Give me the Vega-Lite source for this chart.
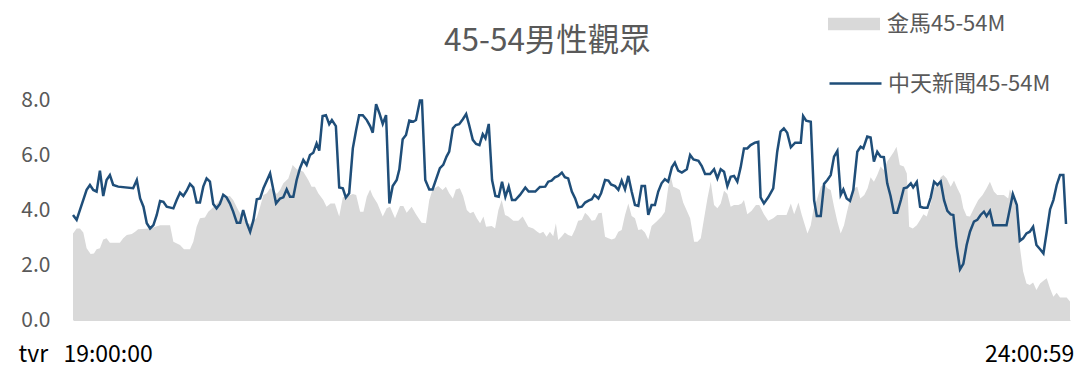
{
  "$schema": "https://vega.github.io/schema/vega-lite/v6.json",
  "width": 997,
  "height": 220,
  "autosize": {"type": "none"},
  "padding": {"left": 73, "top": 100, "right": 9, "bottom": 47},
  "background": "white",
  "config": {
    "view": {"stroke": null},
    "font": "Noto Sans CJK TC"
  },
  "title": {
    "text": "45-54男性觀眾",
    "fontSize": 31.5,
    "fontWeight": "normal",
    "color": "#595959",
    "font": "Noto Sans CJK TC",
    "anchor": "start",
    "frame": "group",
    "dx": 371,
    "dy": 44,
    "baseline": "alphabetic",
    "offset": -40
  },
  "datasets": {
    "jm": [
      {"t":0,"v":3.15},{"t":1.1,"v":3.33},{"t":2.1,"v":3.33},{"t":3.1,"v":3.18},{"t":4.1,"v":2.61},{"t":5.3,"v":2.4},{"t":6.3,"v":2.42},{"t":7.1,"v":2.57},{"t":8.1,"v":2.61},{"t":9.1,"v":2.93},{"t":10.1,"v":2.97},{"t":11.1,"v":2.81},{"t":14.1,"v":2.81},{"t":15.1,"v":2.97},{"t":16.2,"v":3.09},{"t":17.7,"v":3.13},{"t":18.7,"v":3.21},{"t":19.6,"v":3.3},{"t":23.2,"v":3.33},{"t":26.2,"v":3.45},{"t":29.2,"v":3.45},{"t":30.2,"v":2.85},{"t":32.2,"v":2.73},{"t":33.4,"v":2.57},{"t":35.2,"v":2.57},{"t":36.2,"v":2.85},{"t":37.2,"v":3.39},{"t":38.2,"v":3.7},{"t":39.7,"v":3.73},{"t":40.7,"v":3.94},{"t":42.2,"v":4.1},{"t":44.2,"v":4.36},{"t":46.2,"v":4.48},{"t":47.2,"v":4.51},{"t":48.2,"v":4.36},{"t":49.7,"v":4.0},{"t":51.2,"v":3.7},{"t":52.3,"v":3.54},{"t":53.3,"v":3.49},{"t":54.3,"v":3.58},{"t":55.3,"v":3.73},{"t":56.3,"v":4.12},{"t":57.3,"v":4.55},{"t":58.3,"v":4.61},{"t":59.3,"v":4.79},{"t":60.3,"v":4.73},{"t":61.3,"v":4.58},{"t":62.3,"v":4.73},{"t":63.3,"v":4.97},{"t":64.8,"v":5.15},{"t":66.1,"v":5.64},{"t":67.3,"v":5.48},{"t":68.3,"v":5.45},{"t":69.3,"v":5.39},{"t":70.8,"v":5.09},{"t":71.8,"v":4.85},{"t":72.8,"v":4.85},{"t":73.8,"v":4.61},{"t":75.3,"v":4.36},{"t":76.3,"v":4.12},{"t":77.5,"v":4.24},{"t":78.8,"v":4.24},{"t":80.1,"v":3.76},{"t":81.2,"v":4.46},{"t":82.1,"v":4.48},{"t":84.2,"v":4.58},{"t":85.2,"v":4.55},{"t":86.4,"v":3.94},{"t":87.4,"v":3.94},{"t":88.4,"v":4.48},{"t":89.4,"v":4.75},{"t":90.2,"v":4.51},{"t":91.6,"v":4.24},{"t":93.2,"v":3.76},{"t":94.4,"v":4.06},{"t":95.4,"v":4.12},{"t":96.9,"v":3.7},{"t":98.4,"v":4.15},{"t":99.4,"v":4.15},{"t":100.4,"v":3.9},{"t":101.9,"v":4.12},{"t":103.2,"v":3.85},{"t":104.9,"v":3.54},{"t":106.2,"v":3.52},{"t":107.2,"v":4.36},{"t":108.2,"v":4.75},{"t":109.9,"v":4.87},{"t":111.2,"v":4.73},{"t":112.2,"v":4.85},{"t":113.2,"v":4.61},{"t":114.3,"v":4.42},{"t":115.2,"v":4.75},{"t":116.4,"v":4.79},{"t":117.4,"v":4.51},{"t":118.5,"v":4.0},{"t":119.5,"v":3.88},{"t":120.5,"v":3.94},{"t":121.5,"v":3.7},{"t":122.5,"v":3.52},{"t":123.5,"v":3.76},{"t":124.3,"v":3.39},{"t":126.0,"v":3.42},{"t":127.0,"v":3.33},{"t":128.0,"v":4.0},{"t":129.0,"v":4.36},{"t":130.0,"v":3.82},{"t":131.0,"v":3.76},{"t":132.5,"v":3.61},{"t":134.0,"v":3.61},{"t":135.3,"v":3.76},{"t":137.0,"v":3.39},{"t":138.5,"v":3.33},{"t":139.7,"v":3.21},{"t":140.5,"v":3.15},{"t":141.5,"v":3.21},{"t":142.5,"v":3.03},{"t":143.5,"v":3.21},{"t":144.5,"v":3.05},{"t":145.3,"v":3.52},{"t":146.0,"v":2.91},{"t":147.1,"v":3.05},{"t":148.0,"v":3.18},{"t":149.0,"v":3.09},{"t":150.1,"v":3.05},{"t":151.1,"v":3.3},{"t":152.0,"v":3.61},{"t":153.1,"v":3.64},{"t":154.1,"v":3.9},{"t":155.1,"v":3.78},{"t":156.1,"v":3.61},{"t":157.1,"v":3.64},{"t":158.1,"v":3.88},{"t":159.1,"v":3.9},{"t":160.1,"v":3.03},{"t":161.1,"v":2.97},{"t":162.1,"v":2.93},{"t":163.1,"v":2.97},{"t":164.1,"v":3.21},{"t":165.1,"v":3.27},{"t":166.1,"v":3.82},{"t":167.1,"v":4.24},{"t":168.1,"v":3.78},{"t":169.1,"v":3.7},{"t":170.1,"v":3.27},{"t":171.1,"v":3.3},{"t":172.1,"v":3.18},{"t":173.1,"v":2.93},{"t":174.1,"v":3.42},{"t":175.6,"v":3.58},{"t":177.1,"v":3.76},{"t":178.1,"v":3.94},{"t":179.1,"v":4.82},{"t":179.9,"v":5.21},{"t":180.6,"v":4.85},{"t":181.7,"v":4.79},{"t":182.6,"v":4.73},{"t":183.6,"v":4.27},{"t":184.7,"v":3.97},{"t":185.7,"v":3.7},{"t":186.9,"v":2.85},{"t":187.9,"v":2.85},{"t":188.9,"v":2.97},{"t":189.9,"v":3.7},{"t":190.9,"v":4.42},{"t":191.9,"v":5.03},{"t":192.9,"v":4.18},{"t":193.9,"v":4.06},{"t":194.9,"v":4.24},{"t":195.9,"v":4.7},{"t":196.9,"v":4.58},{"t":197.9,"v":4.12},{"t":198.9,"v":4.18},{"t":200.2,"v":4.18},{"t":201.2,"v":4.24},{"t":201.9,"v":4.36},{"t":202.9,"v":3.85},{"t":204.2,"v":3.97},{"t":205.5,"v":4.18},{"t":206.5,"v":4.18},{"t":207.9,"v":3.85},{"t":209.2,"v":3.61},{"t":210.7,"v":3.7},{"t":211.9,"v":3.82},{"t":214.7,"v":3.82},{"t":216.0,"v":4.24},{"t":217.0,"v":3.85},{"t":218.3,"v":4.27},{"t":219.3,"v":3.82},{"t":221.0,"v":3.15},{"t":222.0,"v":3.45},{"t":222.8,"v":4.02},{"t":223.8,"v":4.36},{"t":225.0,"v":4.85},{"t":226.0,"v":4.95},{"t":227.0,"v":4.79},{"t":228.0,"v":4.73},{"t":229.0,"v":4.12},{"t":230.0,"v":3.58},{"t":231.0,"v":3.15},{"t":232.0,"v":3.45},{"t":232.8,"v":3.88},{"t":234.0,"v":4.48},{"t":235.0,"v":4.79},{"t":236.0,"v":4.85},{"t":236.9,"v":4.42},{"t":238.1,"v":4.55},{"t":239.1,"v":4.79},{"t":240.0,"v":5.19},{"t":241.0,"v":5.03},{"t":242.0,"v":5.27},{"t":243.0,"v":5.58},{"t":244.0,"v":5.45},{"t":245.0,"v":5.76},{"t":246.0,"v":5.94},{"t":247.0,"v":6.12},{"t":247.8,"v":6.3},{"t":248.8,"v":5.64},{"t":250.0,"v":5.58},{"t":250.9,"v":5.33},{"t":251.6,"v":3.39},{"t":252.7,"v":3.33},{"t":253.9,"v":3.45},{"t":254.9,"v":3.64},{"t":255.9,"v":3.85},{"t":256.9,"v":3.76},{"t":258.1,"v":4.24},{"t":259.1,"v":4.79},{"t":260.1,"v":4.91},{"t":261.1,"v":5.19},{"t":261.9,"v":5.27},{"t":262.9,"v":5.15},{"t":264.1,"v":4.85},{"t":265.1,"v":5.07},{"t":266.1,"v":4.79},{"t":267.1,"v":4.55},{"t":267.9,"v":4.06},{"t":268.9,"v":3.78},{"t":269.9,"v":3.76},{"t":271.1,"v":4.06},{"t":272.4,"v":4.36},{"t":273.7,"v":4.55},{"t":274.9,"v":4.79},{"t":275.9,"v":5.03},{"t":277.1,"v":4.67},{"t":278.1,"v":4.55},{"t":280.1,"v":4.55},{"t":281.4,"v":4.42},{"t":281.9,"v":4.75},{"t":282.9,"v":4.51},{"t":284.1,"v":3.88},{"t":284.9,"v":2.67},{"t":285.9,"v":1.76},{"t":286.9,"v":1.33},{"t":287.9,"v":1.27},{"t":288.9,"v":1.36},{"t":289.9,"v":1.09},{"t":291.0,"v":1.33},{"t":292.0,"v":1.43},{"t":293.0,"v":1.52},{"t":294.0,"v":1.15},{"t":295.0,"v":0.85},{"t":296.0,"v":0.99},{"t":297.0,"v":0.82},{"t":299.0,"v":0.82},{"t":300.0,"v":0.67}
    ],
    "ct": [
      {"t":0,"v":3.82},{"t":1.1,"v":3.64},{"t":4.1,"v":4.73},{"t":5.1,"v":4.91},{"t":6.1,"v":4.73},{"t":7.1,"v":4.67},{"t":8.1,"v":5.43},{"t":9.1,"v":4.51},{"t":10.1,"v":5.09},{"t":11.1,"v":5.27},{"t":12.1,"v":4.91},{"t":13.6,"v":4.85},{"t":18.1,"v":4.79},{"t":19.2,"v":5.09},{"t":20.2,"v":4.42},{"t":21.2,"v":4.12},{"t":22.2,"v":3.52},{"t":23.2,"v":3.33},{"t":24.2,"v":3.45},{"t":25.2,"v":3.82},{"t":26.2,"v":4.33},{"t":27.2,"v":4.3},{"t":28.2,"v":4.12},{"t":30.2,"v":4.06},{"t":31.2,"v":4.36},{"t":32.2,"v":4.63},{"t":33.2,"v":4.51},{"t":34.2,"v":4.7},{"t":35.2,"v":4.95},{"t":36.2,"v":4.82},{"t":37.2,"v":4.27},{"t":38.2,"v":4.27},{"t":39.2,"v":4.85},{"t":40.2,"v":5.15},{"t":41.2,"v":5.03},{"t":42.2,"v":4.22},{"t":43.2,"v":4.06},{"t":44.2,"v":4.22},{"t":45.2,"v":4.55},{"t":46.2,"v":4.46},{"t":47.2,"v":4.24},{"t":48.2,"v":3.94},{"t":49.3,"v":3.54},{"t":50.3,"v":3.54},{"t":51.2,"v":4.0},{"t":52.3,"v":3.52},{"t":53.3,"v":3.21},{"t":54.3,"v":3.64},{"t":55.3,"v":4.39},{"t":56.3,"v":4.42},{"t":57.3,"v":4.79},{"t":59.3,"v":5.33},{"t":61.1,"v":4.24},{"t":62.3,"v":4.42},{"t":63.3,"v":4.46},{"t":64.3,"v":4.75},{"t":65.3,"v":4.48},{"t":66.3,"v":4.48},{"t":67.3,"v":5.09},{"t":68.3,"v":5.52},{"t":69.3,"v":5.82},{"t":70.3,"v":5.64},{"t":71.3,"v":6.0},{"t":72.3,"v":6.08},{"t":73.3,"v":6.42},{"t":74.1,"v":6.16},{"t":75.1,"v":7.42},{"t":76.1,"v":7.45},{"t":77.1,"v":7.12},{"t":77.9,"v":7.27},{"t":79.1,"v":7.05},{"t":80.1,"v":4.82},{"t":81.2,"v":4.79},{"t":82.1,"v":4.45},{"t":83.1,"v":4.61},{"t":84.2,"v":6.24},{"t":85.2,"v":6.91},{"t":86.1,"v":7.45},{"t":87.2,"v":7.45},{"t":88.4,"v":7.27},{"t":89.4,"v":7.05},{"t":90.2,"v":6.81},{"t":91.2,"v":7.85},{"t":92.2,"v":7.52},{"t":93.2,"v":7.13},{"t":94.2,"v":7.45},{"t":95.2,"v":4.24},{"t":96.2,"v":4.87},{"t":97.4,"v":5.09},{"t":98.2,"v":5.48},{"t":99.2,"v":6.57},{"t":100.2,"v":6.73},{"t":101.2,"v":7.25},{"t":102.4,"v":7.21},{"t":103.2,"v":7.27},{"t":104.4,"v":7.98},{"t":105.0,"v":7.98},{"t":106.0,"v":5.09},{"t":107.2,"v":4.75},{"t":108.2,"v":4.75},{"t":110.4,"v":5.52},{"t":111.4,"v":5.64},{"t":112.4,"v":5.94},{"t":113.2,"v":6.12},{"t":114.3,"v":6.97},{"t":115.2,"v":7.09},{"t":116.2,"v":7.12},{"t":117.3,"v":7.3},{"t":118.3,"v":7.49},{"t":119.2,"v":7.09},{"t":120.3,"v":6.55},{"t":121.3,"v":6.4},{"t":122.3,"v":6.36},{"t":123.3,"v":6.76},{"t":124.1,"v":6.61},{"t":125.1,"v":7.13},{"t":126.1,"v":5.09},{"t":127.1,"v":4.51},{"t":128.1,"v":4.48},{"t":129.1,"v":5.03},{"t":130.1,"v":4.48},{"t":131.1,"v":4.85},{"t":132.1,"v":4.36},{"t":133.1,"v":4.36},{"t":134.5,"v":4.55},{"t":136.1,"v":4.82},{"t":137.1,"v":4.67},{"t":139.1,"v":4.67},{"t":140.5,"v":4.84},{"t":142.1,"v":4.85},{"t":143.0,"v":5.03},{"t":144.0,"v":5.07},{"t":145.0,"v":5.19},{"t":146.0,"v":5.24},{"t":147.1,"v":5.36},{"t":148.0,"v":5.19},{"t":149.0,"v":5.15},{"t":150.1,"v":4.67},{"t":151.1,"v":4.42},{"t":152.0,"v":4.1},{"t":153.1,"v":4.12},{"t":154.1,"v":4.27},{"t":155.1,"v":4.34},{"t":156.1,"v":4.39},{"t":156.9,"v":4.55},{"t":158.1,"v":4.42},{"t":158.9,"v":4.61},{"t":160.1,"v":5.09},{"t":161.1,"v":5.07},{"t":161.9,"v":4.93},{"t":163.1,"v":4.87},{"t":164.1,"v":4.73},{"t":165.1,"v":5.07},{"t":166.1,"v":4.75},{"t":167.1,"v":5.24},{"t":168.1,"v":4.67},{"t":169.1,"v":4.18},{"t":170.1,"v":4.15},{"t":171.1,"v":4.87},{"t":172.1,"v":4.87},{"t":173.1,"v":3.82},{"t":174.1,"v":4.18},{"t":175.1,"v":4.18},{"t":176.1,"v":4.67},{"t":177.1,"v":4.97},{"t":178.1,"v":5.12},{"t":179.1,"v":5.03},{"t":180.2,"v":5.55},{"t":181.1,"v":5.72},{"t":182.1,"v":5.43},{"t":183.2,"v":5.36},{"t":184.7,"v":5.48},{"t":185.7,"v":6.0},{"t":186.7,"v":5.84},{"t":188.2,"v":5.79},{"t":189.2,"v":5.6},{"t":190.2,"v":5.31},{"t":191.7,"v":5.31},{"t":192.9,"v":5.48},{"t":193.9,"v":5.15},{"t":194.9,"v":5.48},{"t":195.9,"v":5.39},{"t":196.9,"v":4.87},{"t":197.9,"v":5.21},{"t":198.9,"v":5.24},{"t":199.9,"v":5.03},{"t":200.9,"v":5.55},{"t":201.9,"v":6.24},{"t":202.9,"v":6.24},{"t":203.9,"v":6.36},{"t":205.2,"v":6.45},{"t":206.2,"v":6.48},{"t":206.9,"v":4.46},{"t":207.9,"v":4.24},{"t":209.2,"v":4.46},{"t":210.7,"v":4.79},{"t":211.9,"v":6.12},{"t":212.9,"v":6.85},{"t":213.9,"v":6.97},{"t":214.9,"v":6.81},{"t":216.0,"v":6.28},{"t":217.3,"v":6.45},{"t":219.0,"v":6.45},{"t":219.7,"v":7.42},{"t":220.6,"v":7.25},{"t":222.0,"v":7.21},{"t":223.0,"v":4.36},{"t":223.8,"v":3.78},{"t":225.0,"v":3.78},{"t":226.0,"v":4.95},{"t":227.0,"v":5.09},{"t":228.0,"v":5.27},{"t":229.0,"v":5.94},{"t":230.0,"v":6.15},{"t":231.0,"v":4.55},{"t":231.8,"v":4.75},{"t":232.8,"v":4.42},{"t":233.8,"v":4.33},{"t":234.8,"v":4.73},{"t":236.0,"v":6.12},{"t":237.0,"v":6.3},{"t":237.8,"v":6.24},{"t":239.0,"v":6.67},{"t":240.0,"v":6.64},{"t":241.0,"v":5.76},{"t":242.0,"v":6.12},{"t":243.0,"v":5.94},{"t":244.0,"v":5.92},{"t":245.0,"v":4.97},{"t":246.0,"v":4.51},{"t":247.0,"v":3.9},{"t":248.0,"v":3.9},{"t":249.1,"v":4.36},{"t":250.0,"v":4.79},{"t":251.0,"v":4.82},{"t":252.1,"v":4.97},{"t":252.8,"v":4.82},{"t":253.9,"v":5.02},{"t":254.9,"v":4.12},{"t":255.9,"v":4.08},{"t":257.1,"v":4.08},{"t":258.1,"v":4.46},{"t":259.1,"v":5.03},{"t":260.1,"v":4.91},{"t":261.1,"v":5.03},{"t":262.1,"v":4.36},{"t":263.1,"v":3.97},{"t":264.1,"v":3.84},{"t":264.9,"v":3.82},{"t":265.9,"v":2.67},{"t":266.9,"v":1.84},{"t":267.9,"v":2.04},{"t":268.9,"v":2.73},{"t":269.9,"v":3.21},{"t":271.1,"v":3.58},{"t":272.1,"v":3.64},{"t":273.1,"v":3.82},{"t":274.1,"v":3.94},{"t":274.9,"v":3.78},{"t":275.9,"v":3.97},{"t":276.9,"v":3.45},{"t":280.9,"v":3.45},{"t":282.8,"v":4.58},{"t":284.0,"v":4.18},{"t":284.9,"v":2.88},{"t":285.9,"v":2.97},{"t":286.9,"v":3.15},{"t":287.9,"v":3.21},{"t":288.9,"v":3.39},{"t":289.9,"v":2.73},{"t":291.0,"v":2.57},{"t":292.0,"v":2.42},{"t":293.0,"v":3.21},{"t":294.0,"v":4.02},{"t":295.0,"v":4.36},{"t":296.0,"v":4.91},{"t":297.0,"v":5.27},{"t":298.0,"v":5.27},{"t":298.8,"v":3.49}
    ]
  },
  "encoding": {
    "x": {
      "field": "t",
      "type": "quantitative",
      "scale": {"domain": [0, 300], "nice": false, "zero": false},
      "axis": {
        "values": [10.4, 287.7],
        "labelExpr": "datum.value < 100 ? '19:00:00' : '24:00:59'",
        "labelFlush": false,
        "labelFontSize": 23,
        "labelColor": "#000000",
        "labelBaseline": "alphabetic",
        "labelPadding": 41,
        "ticks": false,
        "tickSize": 0,
        "grid": false,
        "domain": true,
        "domainColor": "#d9d9d9",
        "domainWidth": 1,
        "title": "tvr",
        "titleFontSize": 23,
        "titleFontWeight": "normal",
        "titleColor": "#000000",
        "titleX": -55,
        "titleY": 41,
        "titleAlign": "left",
        "titleBaseline": "alphabetic",
        "titleAngle": 0
      }
    },
    "y": {
      "field": "v",
      "type": "quantitative",
      "scale": {"domain": [0, 8], "nice": false, "zero": true},
      "axis": {
        "values": [0, 2, 4, 6, 8],
        "format": ".1f",
        "labelFontSize": 21,
        "labelColor": "#595959",
        "labelPadding": 23,
        "ticks": false,
        "tickSize": 0,
        "domain": false,
        "grid": false,
        "title": null
      }
    }
  },
  "layer": [
    {
      "data": {"name": "jm"},
      "mark": {"type": "area", "interpolate": "linear"},
      "encoding": {
        "fill": {
          "datum": "金馬45-54M",
          "type": "nominal",
          "scale": {"domain": ["金馬45-54M"], "range": ["#d9d9d9"]},
          "legend": {
            "orient": "none",
            "legendX": 755,
            "legendY": -102,
            "title": null,
            "symbolType": "M-1,-0.24H1V0.24H-1Z",
            "symbolSize": 2704,
            "symbolStrokeWidth": 0,
            "labelFontSize": 22,
            "labelColor": "#595959",
            "labelOffset": 7,
            "labelLimit": 300,
            "labelFont": "Noto Sans CJK TC"
          }
        }
      }
    },
    {
      "data": {"name": "ct"},
      "mark": {"type": "line", "interpolate": "linear", "strokeWidth": 2.5},
      "encoding": {
        "stroke": {
          "datum": "中天新聞45-54M",
          "type": "nominal",
          "scale": {"domain": ["中天新聞45-54M"], "range": ["#1f4e79"]},
          "legend": {
            "orient": "none",
            "legendX": 755,
            "legendY": -44,
            "title": null,
            "symbolType": "M-1,0H1",
            "symbolSize": 2704,
            "symbolStrokeWidth": 2.5,
            "labelFontSize": 22,
            "labelColor": "#595959",
            "labelOffset": 5,
            "labelLimit": 300,
            "labelFont": "Noto Sans CJK TC"
          }
        }
      }
    }
  ]
}
